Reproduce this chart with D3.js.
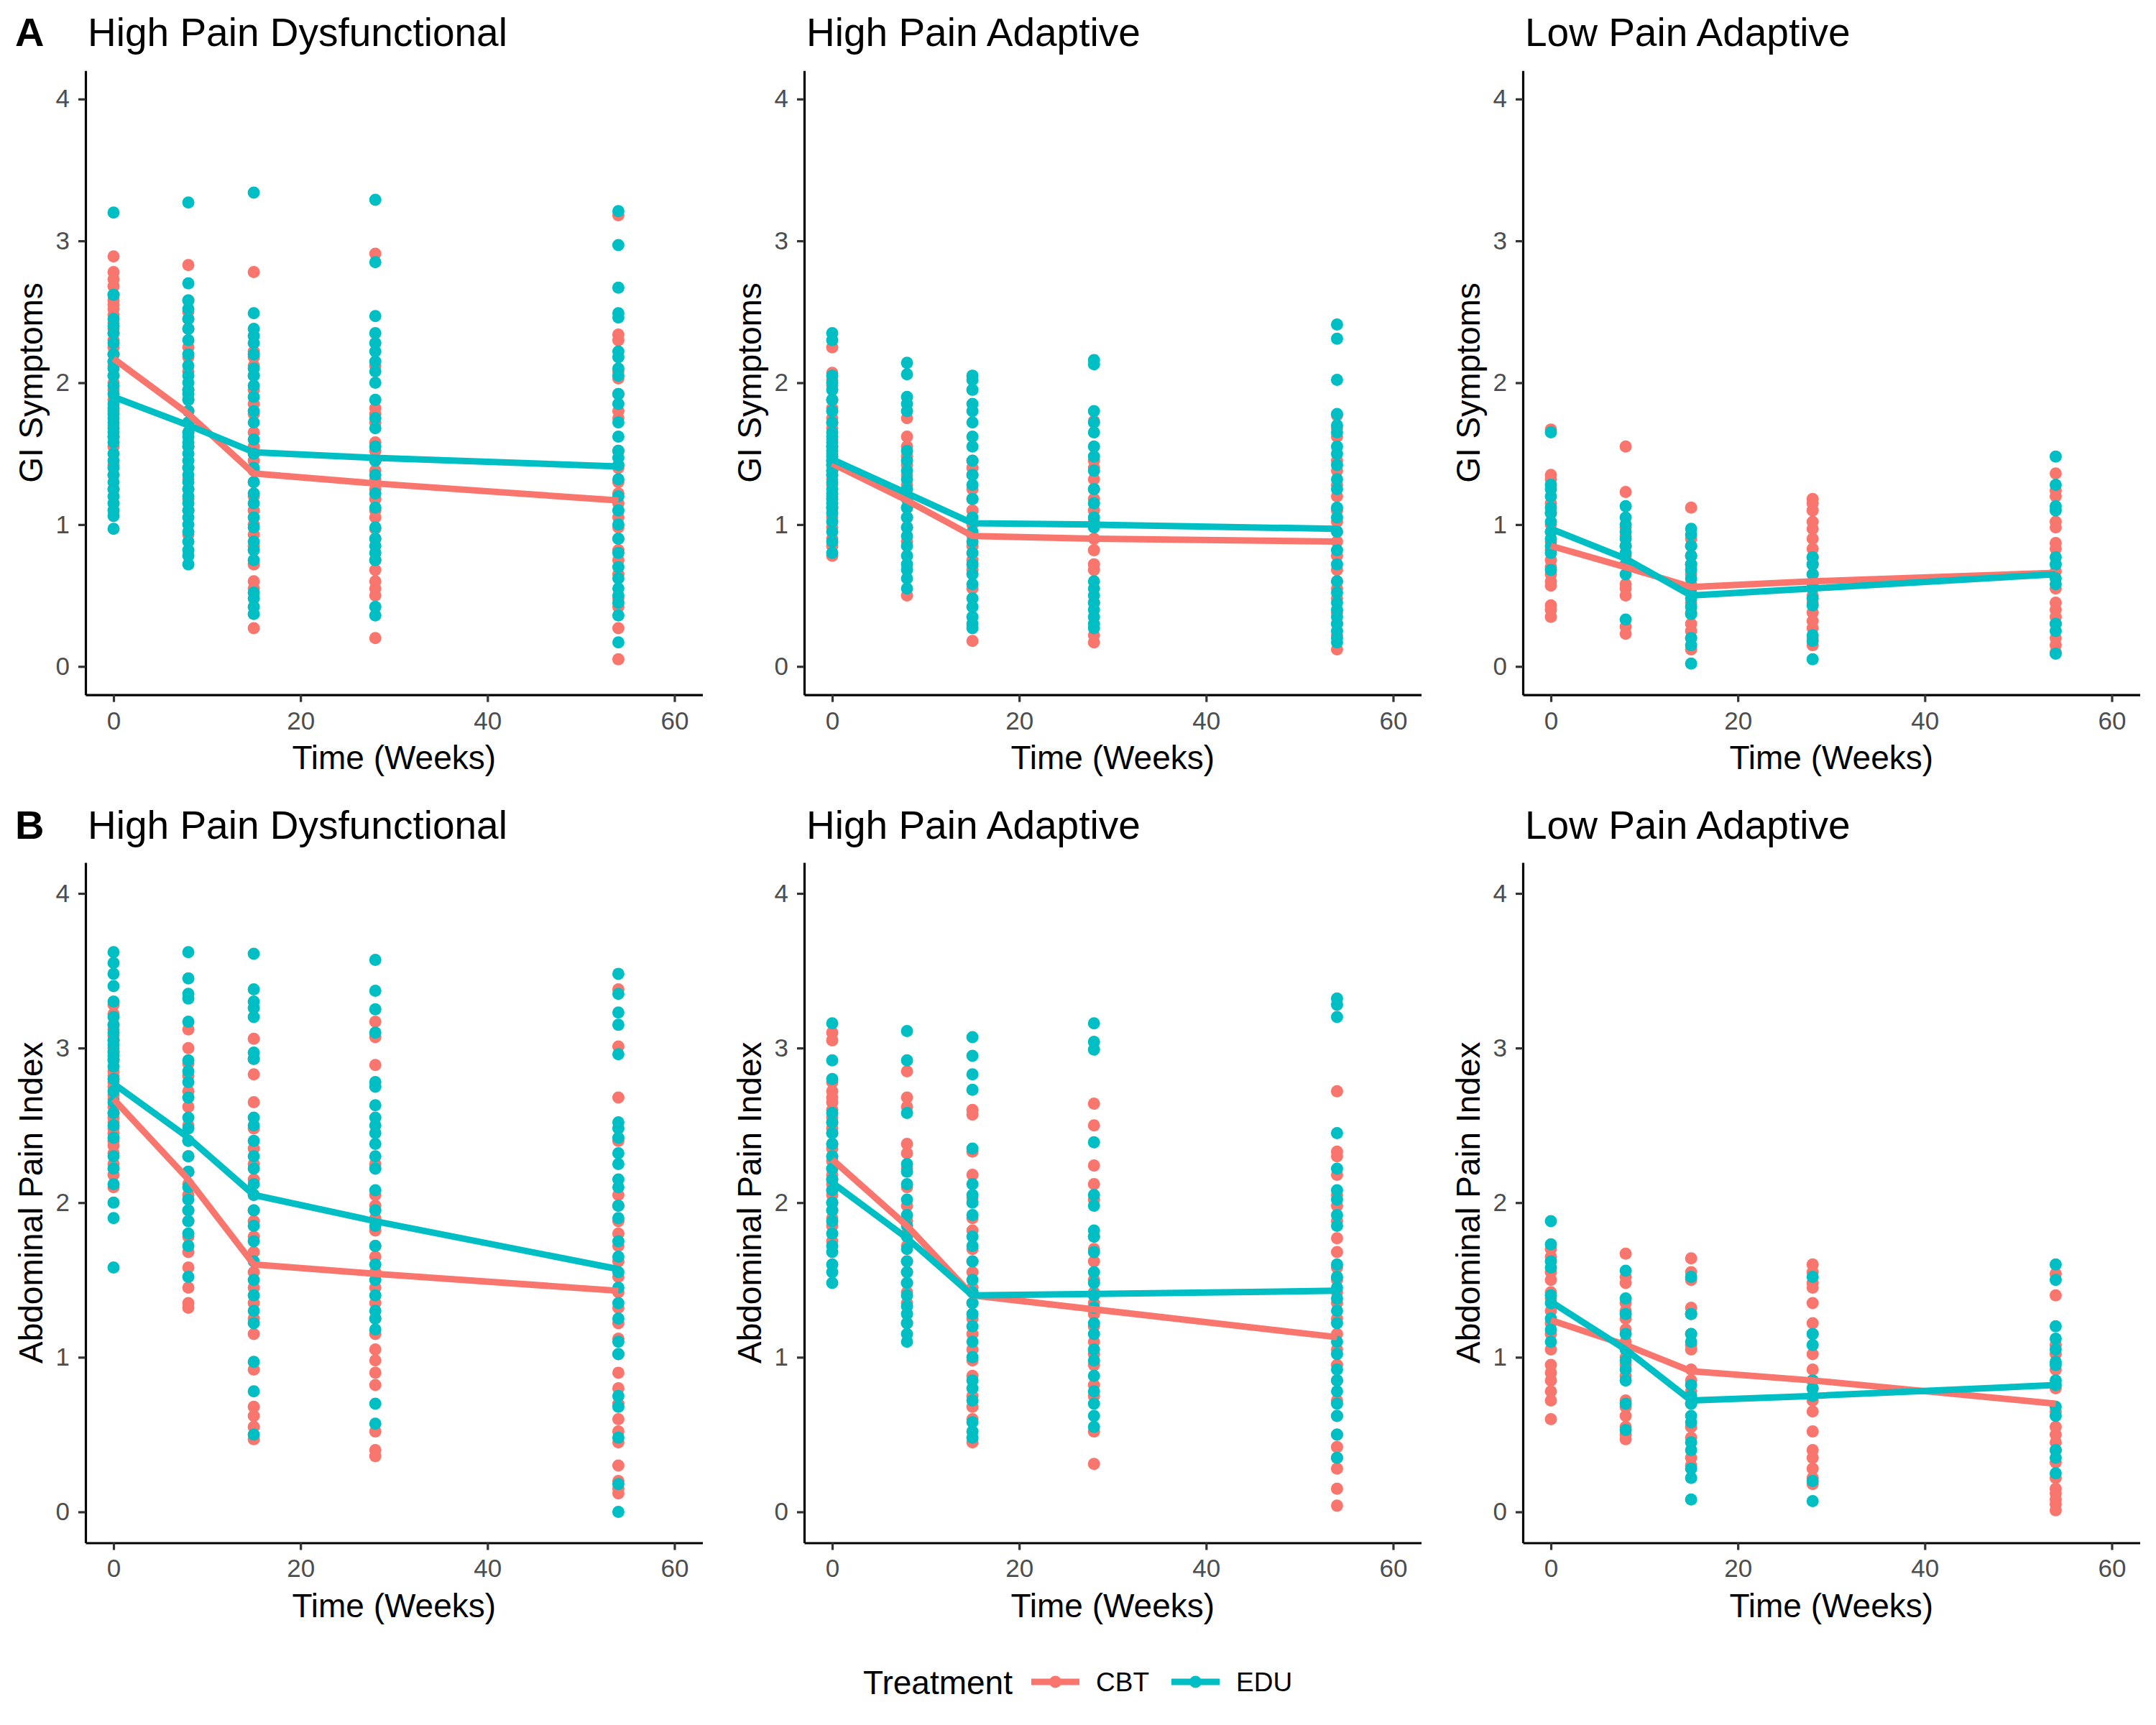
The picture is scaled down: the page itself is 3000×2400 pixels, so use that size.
<!DOCTYPE html>
<html>
<head>
<meta charset="utf-8">
<script src="https://cdn.jsdelivr.net/npm/d3@7"></script>
<style>
  body { margin: 0; background: #fff; }
  svg { display: block; }
</style>
</head>
<body>
<div id="chart"></div>
<script>
// time points (weeks) and groups
var weeks = [0, 8, 15, 28, 54];
var groups = ["High Pain Dysfunctional", "High Pain Adaptive", "Low Pain Adaptive"];
var treatments = ["CBT", "EDU"];
var yTicks = [0, 1, 2, 3, 4];
var xTicks = [0, 20, 40, 60];
var rowLetters = ["A", "B"];
var rowLabels = ["GI Symptoms", "Abdominal Pain Index"];

// ---- GI symptoms, group means ----
var gi_hpd_cbt_mean = [2.17, 1.78, 1.36, 1.29, 1.17];
var gi_hpd_edu_mean = [1.90, 1.70, 1.51, 1.47, 1.41];
var gi_hpa_cbt_mean = [1.43, 1.17, 0.92, 0.90, 0.88];
var gi_hpa_edu_mean = [1.46, 1.22, 1.01, 1.00, 0.97];
var gi_lpa_cbt_mean = [0.85, 0.70, 0.56, 0.60, 0.66];
var gi_lpa_edu_mean = [0.97, 0.76, 0.50, 0.55, 0.65];

// ---- abdominal pain index, group means ----
var api_hpd_cbt_mean = [2.67, 2.15, 1.60, 1.54, 1.43];
var api_hpd_edu_mean = [2.77, 2.42, 2.05, 1.88, 1.57];
var api_hpa_cbt_mean = [2.28, 1.85, 1.40, 1.31, 1.13];
var api_hpa_edu_mean = [2.13, 1.77, 1.40, 1.41, 1.43];
var api_lpa_cbt_mean = [1.24, 1.08, 0.91, 0.85, 0.70];
var api_lpa_edu_mean = [1.36, 1.05, 0.72, 0.75, 0.82];

// ---- individual scores, one list per week ----
var gi_hpd_cbt = [
  [2.89, 2.78, 2.73, 2.68, 2.62, 2.58, 2.55, 2.52, 2.48, 2.42, 2.38, 2.35, 2.30, 2.25, 2.20, 2.15, 2.12, 2.05, 2.00, 1.95, 1.88, 1.80, 1.70, 1.62, 1.55, 1.42, 1.35, 1.25],
  [2.83, 2.58, 2.50, 2.45, 2.38, 2.25, 2.18, 2.08, 1.95, 1.88, 1.80, 1.72, 1.65, 1.55, 1.40, 1.32, 1.25, 1.18, 1.10, 0.93],
  [2.78, 2.22, 2.18, 2.12, 2.05, 1.95, 1.85, 1.78, 1.65, 1.55, 1.45, 1.38, 1.30, 1.20, 1.10, 1.00, 0.93, 0.85, 0.72, 0.60, 0.55, 0.27],
  [2.91, 2.12, 1.82, 1.78, 1.72, 1.58, 1.52, 1.45, 1.38, 1.32, 1.25, 1.18, 1.10, 1.05, 0.97, 0.90, 0.75, 0.68, 0.60, 0.55, 0.50, 0.20],
  [3.18, 2.34, 2.30, 2.08, 2.03, 1.92, 1.80, 1.75, 1.52, 1.40, 1.30, 1.22, 1.15, 1.05, 0.98, 0.90, 0.82, 0.75, 0.65, 0.48, 0.42, 0.27, 0.05]
];
var gi_hpd_edu = [
  [3.20, 2.62, 2.45, 2.40, 2.35, 2.28, 2.20, 2.15, 2.10, 2.05, 1.98, 1.92, 1.85, 1.82, 1.78, 1.75, 1.72, 1.68, 1.65, 1.62, 1.58, 1.50, 1.45, 1.40, 1.35, 1.30, 1.25, 1.20, 1.15, 1.10, 1.06, 0.97],
  [3.27, 2.70, 2.58, 2.52, 2.45, 2.38, 2.30, 2.20, 2.12, 2.05, 2.00, 1.95, 1.92, 1.88, 1.80, 1.72, 1.65, 1.62, 1.58, 1.55, 1.50, 1.45, 1.40, 1.35, 1.30, 1.25, 1.20, 1.15, 1.10, 1.05, 1.00, 0.95, 0.88, 0.82, 0.78, 0.72],
  [3.34, 2.49, 2.38, 2.33, 2.28, 2.20, 2.10, 2.05, 1.98, 1.90, 1.80, 1.72, 1.60, 1.50, 1.40, 1.30, 1.22, 1.15, 1.05, 0.98, 0.88, 0.82, 0.75, 0.52, 0.48, 0.42, 0.37],
  [3.29, 2.85, 2.47, 2.35, 2.28, 2.22, 2.15, 2.08, 2.00, 1.88, 1.75, 1.68, 1.55, 1.45, 1.35, 1.22, 1.12, 0.98, 0.90, 0.85, 0.80, 0.75, 0.42, 0.36],
  [3.21, 2.97, 2.67, 2.49, 2.46, 2.22, 2.18, 2.10, 2.05, 1.92, 1.85, 1.72, 1.62, 1.52, 1.47, 1.42, 1.32, 1.20, 1.10, 1.00, 0.90, 0.80, 0.70, 0.62, 0.55, 0.50, 0.45, 0.36, 0.17]
];
var gi_hpa_cbt = [
  [2.25, 2.07, 2.02, 1.98, 1.88, 1.82, 1.75, 1.72, 1.68, 1.60, 1.55, 1.50, 1.45, 1.42, 1.38, 1.35, 1.32, 1.28, 1.20, 1.12, 1.05, 0.98, 0.90, 0.85, 0.78],
  [1.75, 1.62, 1.55, 1.48, 1.42, 1.35, 1.28, 1.20, 1.12, 1.05, 0.98, 0.88, 0.50],
  [1.45, 1.40, 1.35, 1.25, 1.18, 1.10, 1.00, 0.92, 0.85, 0.75, 0.68, 0.55, 0.18],
  [1.73, 1.45, 1.40, 1.32, 1.25, 1.18, 1.10, 1.02, 0.90, 0.82, 0.72, 0.68, 0.45, 0.22, 0.17],
  [1.77, 1.68, 1.62, 1.45, 1.38, 1.28, 1.20, 1.10, 1.02, 0.95, 0.88, 0.78, 0.68, 0.60, 0.55, 0.48, 0.38, 0.30, 0.22, 0.12]
];
var gi_hpa_edu = [
  [2.35, 2.30, 2.05, 2.00, 1.95, 1.88, 1.80, 1.72, 1.65, 1.62, 1.58, 1.55, 1.52, 1.48, 1.45, 1.42, 1.38, 1.35, 1.30, 1.25, 1.22, 1.18, 1.15, 1.12, 1.08, 1.02, 0.95, 0.88, 0.80],
  [2.14, 2.06, 1.90, 1.85, 1.80, 1.52, 1.45, 1.38, 1.32, 1.25, 1.18, 1.12, 1.05, 0.98, 0.92, 0.85, 0.78, 0.72, 0.68, 0.62, 0.55],
  [2.05, 2.02, 1.95, 1.85, 1.80, 1.72, 1.62, 1.55, 1.45, 1.35, 1.28, 1.18, 1.05, 0.95, 0.88, 0.80, 0.72, 0.65, 0.58, 0.48, 0.42, 0.35, 0.30, 0.27],
  [2.16, 2.13, 1.80, 1.72, 1.65, 1.55, 1.48, 1.38, 1.25, 1.15, 1.05, 0.98, 0.60, 0.55, 0.50, 0.45, 0.40, 0.35, 0.30, 0.27],
  [2.41, 2.31, 2.02, 1.78, 1.70, 1.65, 1.55, 1.50, 1.42, 1.32, 1.25, 1.12, 1.05, 0.95, 0.82, 0.72, 0.60, 0.52, 0.45, 0.40, 0.35, 0.30, 0.25, 0.20, 0.17]
];
var gi_lpa_cbt = [
  [1.67, 1.35, 1.32, 1.15, 1.08, 1.00, 0.95, 0.88, 0.82, 0.75, 0.70, 0.65, 0.60, 0.57, 0.43, 0.40, 0.35],
  [1.55, 1.23, 0.98, 0.92, 0.85, 0.78, 0.72, 0.58, 0.55, 0.50, 0.28, 0.23],
  [1.12, 0.90, 0.85, 0.78, 0.72, 0.65, 0.58, 0.52, 0.45, 0.38, 0.30, 0.25, 0.20, 0.12],
  [1.18, 1.15, 1.10, 1.02, 0.97, 0.90, 0.83, 0.77, 0.72, 0.65, 0.58, 0.50, 0.45, 0.38, 0.32, 0.27, 0.20, 0.15],
  [1.36, 1.24, 1.20, 1.02, 0.98, 0.87, 0.83, 0.67, 0.55, 0.45, 0.40, 0.35, 0.30, 0.20, 0.15, 0.10]
];
var gi_lpa_edu = [
  [1.65, 1.28, 1.25, 1.20, 1.12, 1.08, 1.02, 0.95, 0.90, 0.85, 0.80, 0.68],
  [1.13, 1.05, 1.00, 0.95, 0.90, 0.85, 0.80, 0.72, 0.65, 0.33],
  [0.97, 0.93, 0.85, 0.78, 0.72, 0.68, 0.62, 0.55, 0.48, 0.42, 0.37, 0.20, 0.15, 0.02],
  [0.77, 0.72, 0.65, 0.55, 0.48, 0.43, 0.22, 0.18, 0.05],
  [1.48, 1.28, 1.13, 1.10, 0.77, 0.72, 0.62, 0.58, 0.30, 0.25, 0.09]
];
var api_hpd_cbt = [
  [3.28, 3.22, 3.15, 3.12, 3.08, 3.05, 3.00, 2.97, 2.93, 2.85, 2.82, 2.78, 2.75, 2.70, 2.67, 2.62, 2.58, 2.55, 2.52, 2.48, 2.45, 2.40, 2.37, 2.32, 2.25, 2.18, 2.10],
  [3.12, 3.00, 2.90, 2.82, 2.72, 2.62, 2.50, 2.40, 2.30, 2.20, 2.12, 2.05, 1.95, 1.88, 1.78, 1.68, 1.58, 1.45, 1.35, 1.32],
  [3.06, 2.93, 2.83, 2.65, 2.48, 2.35, 2.25, 2.15, 2.05, 1.95, 1.88, 1.78, 1.68, 1.55, 1.45, 1.35, 1.25, 1.15, 0.92, 0.68, 0.62, 0.55, 0.47],
  [3.17, 3.07, 2.89, 2.25, 2.05, 1.98, 1.90, 1.82, 1.72, 1.65, 1.55, 1.45, 1.35, 1.25, 1.15, 1.05, 0.98, 0.90, 0.82, 0.52, 0.40, 0.36],
  [3.38, 3.01, 2.68, 2.40, 2.05, 1.98, 1.88, 1.80, 1.72, 1.62, 1.52, 1.42, 1.32, 1.22, 1.12, 1.02, 0.90, 0.80, 0.70, 0.60, 0.52, 0.45, 0.30, 0.20, 0.15, 0.12]
];
var api_hpd_edu = [
  [3.62, 3.55, 3.48, 3.40, 3.30, 3.20, 3.15, 3.10, 3.05, 3.02, 2.98, 2.95, 2.92, 2.88, 2.80, 2.72, 2.65, 2.58, 2.50, 2.42, 2.30, 2.22, 2.12, 2.00, 1.90, 1.58],
  [3.62, 3.45, 3.35, 3.32, 3.17, 2.92, 2.85, 2.78, 2.68, 2.55, 2.48, 2.40, 2.30, 2.20, 2.10, 2.02, 1.95, 1.88, 1.80, 1.72, 1.52],
  [3.61, 3.38, 3.30, 3.26, 3.20, 2.97, 2.93, 2.55, 2.50, 2.40, 2.30, 2.22, 2.12, 2.05, 1.95, 1.85, 1.75, 1.62, 1.50, 1.40, 1.30, 1.22, 0.97, 0.78, 0.50],
  [3.57, 3.37, 3.25, 3.10, 2.78, 2.75, 2.63, 2.55, 2.50, 2.45, 2.38, 2.30, 2.22, 2.08, 1.95, 1.85, 1.72, 1.60, 1.50, 1.40, 1.30, 1.25, 1.18, 0.70, 0.57],
  [3.48, 3.35, 3.23, 3.15, 2.96, 2.52, 2.48, 2.42, 2.32, 2.25, 2.15, 2.10, 1.98, 1.90, 1.75, 1.65, 1.55, 1.45, 1.35, 1.25, 1.10, 1.02, 0.75, 0.68, 0.48, 0.18, 0.00]
];
var api_hpa_cbt = [
  [3.10, 3.05, 2.78, 2.72, 2.68, 2.65, 2.60, 2.55, 2.52, 2.48, 2.45, 2.38, 2.35, 2.30, 2.27, 2.22, 2.18, 2.15, 2.12, 2.08, 2.05, 2.00, 1.95, 1.90, 1.85, 1.75],
  [2.85, 2.68, 2.62, 2.38, 2.32, 2.22, 2.10, 1.98, 1.88, 1.80, 1.72, 1.62, 1.55, 1.48, 1.42, 1.35, 1.22],
  [2.60, 2.57, 2.33, 2.18, 2.03, 1.90, 1.82, 1.70, 1.62, 1.55, 1.45, 1.35, 1.25, 1.15, 1.05, 0.98, 0.88, 0.75, 0.68, 0.60, 0.45],
  [2.64, 2.50, 2.24, 2.12, 2.02, 1.78, 1.70, 1.62, 1.50, 1.42, 1.35, 1.28, 1.20, 1.10, 1.02, 0.95, 0.82, 0.75, 0.52, 0.31],
  [2.72, 2.33, 2.30, 2.18, 2.05, 1.98, 1.88, 1.77, 1.68, 1.58, 1.50, 1.42, 1.35, 1.25, 1.15, 1.05, 0.95, 0.85, 0.72, 0.62, 0.50, 0.42, 0.35, 0.28, 0.15, 0.04]
];
var api_hpa_edu = [
  [3.16, 2.92, 2.80, 2.58, 2.52, 2.45, 2.38, 2.30, 2.22, 2.15, 2.08, 2.00, 1.95, 1.88, 1.80, 1.72, 1.68, 1.60, 1.55, 1.48],
  [3.11, 2.92, 2.58, 2.25, 2.20, 2.12, 2.02, 1.92, 1.85, 1.78, 1.70, 1.62, 1.55, 1.48, 1.40, 1.33, 1.28, 1.22, 1.15, 1.10],
  [3.07, 2.95, 2.83, 2.73, 2.35, 2.12, 2.05, 2.00, 1.92, 1.78, 1.72, 1.62, 1.50, 1.42, 1.35, 1.28, 1.20, 1.10, 1.00, 0.85, 0.80, 0.72, 0.58, 0.52, 0.48],
  [3.16, 3.04, 2.99, 2.39, 2.05, 1.98, 1.82, 1.78, 1.68, 1.55, 1.48, 1.40, 1.32, 1.22, 1.15, 1.05, 0.98, 0.88, 0.78, 0.70, 0.62, 0.55],
  [3.32, 3.28, 3.20, 2.45, 2.22, 2.08, 2.02, 1.92, 1.85, 1.60, 1.52, 1.45, 1.38, 1.30, 1.22, 1.10, 1.02, 0.92, 0.85, 0.78, 0.70, 0.62, 0.50, 0.35]
];
var api_lpa_cbt = [
  [1.70, 1.65, 1.55, 1.50, 1.42, 1.38, 1.30, 1.22, 1.15, 1.05, 0.95, 0.90, 0.85, 0.78, 0.72, 0.60],
  [1.67, 1.52, 1.48, 1.35, 1.30, 1.25, 1.18, 1.10, 1.00, 0.95, 0.88, 0.72, 0.68, 0.62, 0.55, 0.50, 0.47],
  [1.64, 1.55, 1.50, 1.32, 1.28, 1.15, 1.08, 1.05, 0.92, 0.85, 0.78, 0.70, 0.55, 0.48, 0.35, 0.30],
  [1.60, 1.55, 1.48, 1.45, 1.35, 1.22, 1.15, 1.02, 0.92, 0.85, 0.80, 0.72, 0.65, 0.52, 0.40, 0.35, 0.28, 0.22, 0.18],
  [1.54, 1.40, 1.08, 1.02, 0.92, 0.80, 0.65, 0.55, 0.50, 0.45, 0.40, 0.32, 0.22, 0.15, 0.12, 0.08, 0.05, 0.01]
];
var api_lpa_edu = [
  [1.88, 1.73, 1.62, 1.58, 1.40, 1.35, 1.25, 1.18, 1.10],
  [1.56, 1.38, 1.28, 1.15, 1.05, 0.98, 0.92, 0.85, 0.70, 0.53],
  [1.52, 1.28, 1.15, 1.10, 0.82, 0.75, 0.70, 0.62, 0.58, 0.45, 0.40, 0.28, 0.22, 0.08],
  [1.52, 1.15, 1.08, 0.85, 0.80, 0.75, 0.20, 0.07],
  [1.60, 1.50, 1.20, 1.12, 1.05, 0.97, 0.95, 0.85, 0.82, 0.68, 0.62, 0.40, 0.35, 0.25]
];

// panels in reading order: row, column
var panels = [
  {row: 0, col: 0, cbt: gi_hpd_cbt, edu: gi_hpd_edu, cbtMean: gi_hpd_cbt_mean, eduMean: gi_hpd_edu_mean},
  {row: 0, col: 1, cbt: gi_hpa_cbt, edu: gi_hpa_edu, cbtMean: gi_hpa_cbt_mean, eduMean: gi_hpa_edu_mean},
  {row: 0, col: 2, cbt: gi_lpa_cbt, edu: gi_lpa_edu, cbtMean: gi_lpa_cbt_mean, eduMean: gi_lpa_edu_mean},
  {row: 1, col: 0, cbt: api_hpd_cbt, edu: api_hpd_edu, cbtMean: api_hpd_cbt_mean, eduMean: api_hpd_edu_mean},
  {row: 1, col: 1, cbt: api_hpa_cbt, edu: api_hpa_edu, cbtMean: api_hpa_cbt_mean, eduMean: api_hpa_edu_mean},
  {row: 1, col: 2, cbt: api_lpa_cbt, edu: api_lpa_edu, cbtMean: api_lpa_cbt_mean, eduMean: api_lpa_edu_mean}
];

var colors = {CBT: "#F8766D", EDU: "#00BFC4"};
var font = "'Liberation Sans', Arial, sans-serif";

var W = 3000, H = 2400;
var colW = 1000;
// plot area per row (top, bottom) and title baselines
var rowTop = [98.3, 1200];
var rowBottom = [966.7, 2146.5];
var titleBase = [64, 1166.7];
var plotLeft = 119, plotRight = 977.5;
var dotR = 8.5, lineW = 9;

var svg = d3.select("#chart").append("svg")
  .attr("width", W)
  .attr("height", H)
  .style("font-family", font);

svg.append("rect").attr("width", W).attr("height", H).attr("fill", "#fff");

var line = d3.line();

panels.forEach(function(p){
  var ox = p.col * colW;
  var x = d3.scaleLinear().domain([-3, 63]).range([ox + plotLeft, ox + plotRight]);
  var y = d3.scaleLinear().domain([-0.2, 4.2]).range([rowBottom[p.row], rowTop[p.row]]);
  var g = svg.append("g");

  // points
  treatments.forEach(function(t){
    var sets = t == "CBT" ? p.cbt : p.edu;
    var pts = [];
    sets.forEach(function(vals, i){
      vals.forEach(function(v){ pts.push({w: weeks[i], v: v}); });
    });
    g.append("g").selectAll("circle")
      .data(pts)
      .enter()
      .append("circle")
      .attr("cx", function(d){ return x(d.w); })
      .attr("cy", function(d){ return y(d.v); })
      .attr("r", dotR)
      .attr("fill", colors[t]);
  });

  // mean lines
  treatments.forEach(function(t){
    var m = t == "CBT" ? p.cbtMean : p.eduMean;
    g.append("path")
      .attr("d", line(m.map(function(v, i){ return [x(weeks[i]), y(v)]; })))
      .attr("fill", "none")
      .attr("stroke", colors[t])
      .attr("stroke-width", lineW)
      .attr("stroke-linejoin", "round");
  });

  // axes
  var ya = g.append("g")
    .attr("transform", "translate(" + (ox + plotLeft) + ",0)")
    .call(d3.axisLeft(y).tickValues(yTicks).tickFormat(d3.format("d"))
      .tickSize(10).tickSizeOuter(0).tickPadding(12));
  var xa = g.append("g")
    .attr("transform", "translate(0," + rowBottom[p.row] + ")")
    .call(d3.axisBottom(x).tickValues(xTicks).tickFormat(d3.format("d"))
      .tickSize(10).tickSizeOuter(0).tickPadding(13));
  [ya, xa].forEach(function(a){
    a.select(".domain").attr("stroke", "#000").attr("stroke-width", 3.2);
    a.selectAll(".tick line").attr("stroke", "#333").attr("stroke-width", 3.2);
    a.selectAll(".tick text")
      .attr("fill", "#4D4D4D")
      .style("font-size", "35px")
      .style("font-family", font);
  });

  // panel title
  g.append("text")
    .attr("x", ox + 122)
    .attr("y", titleBase[p.row])
    .style("font-size", "55px")
    .text(groups[p.col]);

  if (p.col == 0) {
    g.append("text")
      .attr("x", 21)
      .attr("y", titleBase[p.row])
      .style("font-size", "56px")
      .style("font-weight", "bold")
      .text(rowLetters[p.row]);
  }

  // axis titles
  g.append("text")
    .attr("transform", "translate(" + (ox + 59) + "," + ((rowTop[p.row] + rowBottom[p.row]) / 2) + ") rotate(-90)")
    .attr("text-anchor", "middle")
    .style("font-size", "46px")
    .text(rowLabels[p.row]);

  g.append("text")
    .attr("x", ox + (plotLeft + plotRight) / 2)
    .attr("y", rowBottom[p.row] + 103)
    .attr("text-anchor", "middle")
    .style("font-size", "46px")
    .text("Time (Weeks)");
});

// legend
var leg = svg.append("g");
var legY = 2340;
leg.append("text")
  .attr("x", 1201)
  .attr("y", legY + 16.5)
  .style("font-size", "46px")
  .text("Treatment");

var keyX = [1435, 1630];
treatments.forEach(function(t, i){
  var k = leg.append("g").attr("transform", "translate(" + keyX[i] + "," + legY + ")");
  k.append("line")
    .attr("x1", 0).attr("x2", 67)
    .attr("y1", 0).attr("y2", 0)
    .attr("stroke", colors[t])
    .attr("stroke-width", lineW);
  k.append("circle")
    .attr("cx", 33.5).attr("cy", 0)
    .attr("r", dotR)
    .attr("fill", colors[t]);
  k.append("text")
    .attr("x", 90)
    .attr("y", 13)
    .style("font-size", "37px")
    .text(t);
});
</script>
</body>
</html>
